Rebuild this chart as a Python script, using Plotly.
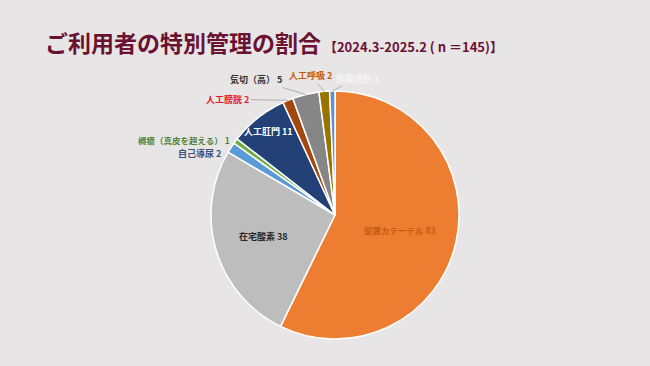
import math
import plotly.graph_objects as go

# Data
labels = ["留置カテーテル", "在宅酸素", "自己導尿", "褥瘡（真皮を超える）", "人工肛門",
          "人工膀胱", "気切（高）", "人工呼吸", "腹膜透析"]
values = [83, 38, 2, 1, 11, 2, 5, 2, 1]
slice_colors = ["#ed7d31", "#bdbdbd", "#5b9bd5", "#70ad47", "#234176",
                "#a3460f", "#868686", "#9a7400", "#5b8fd9"]
label_colors = ["#c55a11", "#262626", "#3b4f7a", "#548235", "#ffffff",
                "#e0202a", "#333333", "#c55a11", "#f4f4f4"]
title_main = "ご利用者の特別管理の割合"
title_sub = "【2024.3-2025.2 ( n ＝145)】"

W, H = 650, 366
CX, CY, R = 335, 215, 124

# label placement: (radius fraction for anchor, dx, dy, show leader, xanchor, font size)
label_layout = [
    (0.53, 0, 0, False, "center", 8.5),
    (0.60, 0, 0, False, "center", 9),
    (1.00, -8, 6, False, "right", 9),
    (1.00, -3, -1, False, "right", 8.5),
    (0.86, 0, 0, False, "center", 9),
    (1.00, -60, -1, True, "center", 9),
    (1.00, -50, -15, True, "center", 9),
    (1.00, -14, -16, True, "center", 9),
    (1.00, 25, -13, True, "center", 9),
]

fig = go.Figure(go.Pie(
    labels=labels, values=values, sort=False, direction="clockwise", rotation=0,
    marker=dict(colors=slice_colors, line=dict(color="white", width=1.5)),
    textinfo="none", hoverinfo="label+value", showlegend=False,
    domain=dict(x=[(CX - R) / W, (CX + R) / W], y=[(H - CY - R) / H, (H - CY + R) / H]),
))

total = sum(values)
cum = 0
annotations = []
for lab, v, col, lay in zip(labels, values, label_colors, label_layout):
    mid = (cum + v / 2) / total * 2 * math.pi
    cum += v
    frac, dx, dy, leader, xa, fs = lay
    px = CX + R * frac * math.sin(mid)
    py = CY - R * frac * math.cos(mid)
    text = f"<b>{lab} {v}</b>"
    if leader:
        annotations.append(dict(
            x=px / W, y=1 - py / H, xref="paper", yref="paper", text=text,
            showarrow=True, arrowhead=0, arrowwidth=1, arrowcolor="#b0b0b0",
            ax=dx, ay=dy, font=dict(size=fs, color=col, family="Noto Sans CJK JP"),
        ))
    else:
        annotations.append(dict(
            x=(px + dx) / W, y=1 - (py + dy) / H, xref="paper", yref="paper", text=text,
            showarrow=False, xanchor=xa, yanchor="middle",
            font=dict(size=fs, color=col, family="Noto Sans CJK JP"),
        ))

annotations.append(dict(
    x=43 / W, y=1 - 42 / H, xref="paper", yref="paper", xanchor="left", yanchor="middle",
    showarrow=False,
    text=f"<b>{title_main}</b><b><span style='font-size:13px'> {title_sub}</span></b>",
    font=dict(size=23, color="#6b1131", family="Noto Sans CJK JP"),
))

fig.update_layout(
    width=W, height=H, margin=dict(l=0, r=0, t=0, b=0),
    paper_bgcolor="#e7e5e5", plot_bgcolor="#e7e5e5",
    annotations=annotations,
)
fig.write_html("out.html", config={"displayModeBar": False},
               post_script="document.body.style.margin='0';document.body.style.background='#e7e5e5';")
